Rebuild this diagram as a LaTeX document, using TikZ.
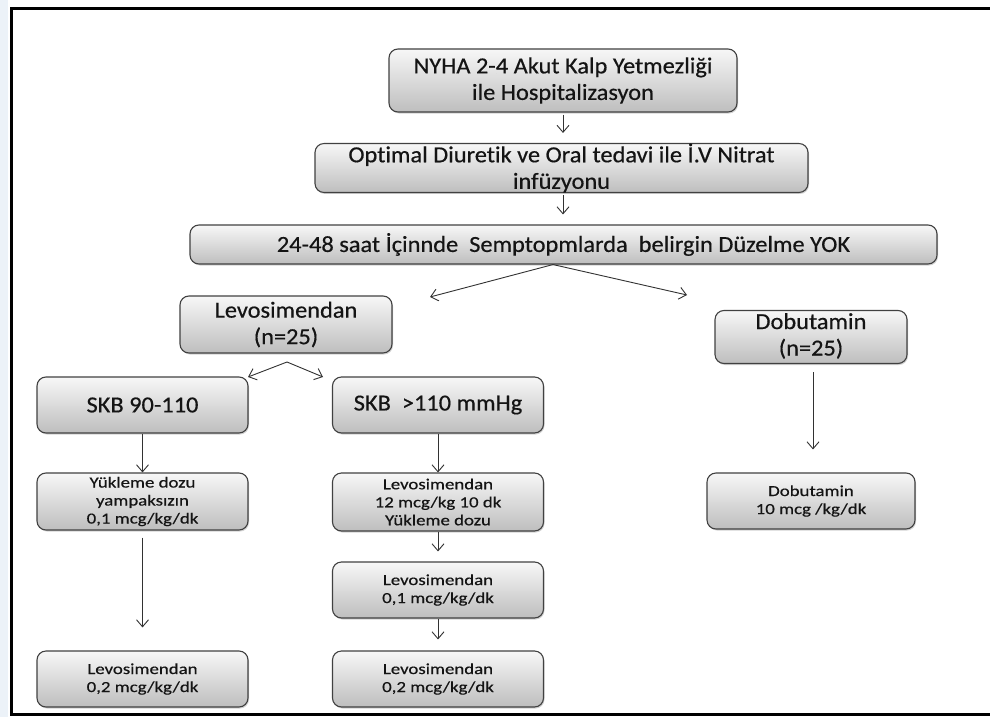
\documentclass[tikz,border=0pt]{standalone}
\usepackage{fontspec}
\setmainfont[FakeStretch=1.06, FakeBold=0.5, RawFeature={-liga;-dlig;-calt}]{Carlito}
\newfontfamily\midfam[FakeStretch=1.23, FakeBold=0.5, RawFeature={-liga;-dlig;-calt}]{Carlito}
\usetikzlibrary{arrows.meta,shadows}
\definecolor{boxedge}{RGB}{65,65,65}
\definecolor{boxtop}{RGB}{247,247,247}
\definecolor{boxbot}{RGB}{190,190,190}
\definecolor{linegray}{RGB}{50,50,50}
\definecolor{txt}{RGB}{20,20,20}
\definecolor{strip}{RGB}{236,242,248}
\begin{document}
\begin{tikzpicture}[x=1pt,y=-1pt,
  flowbox/.style={draw=boxedge, line width=1.1pt, rounded corners=9pt,
    top color=boxtop, bottom color=boxbot, align=center, inner sep=0pt, text=txt,
    drop shadow={shadow xshift=1pt, shadow yshift=-1.5pt, opacity=0.35}},
  bigfont/.style={font=\fontsize{23}{26.5}\selectfont},
  midfont/.style={font=\midfam\fontsize{15.3}{18}\selectfont},
  conn/.style={draw=linegray, line width=0.9pt, -{Straight Barb[length=7pt,width=12pt]}},
]
\fill[white] (0,0) rectangle (990,717);
\useasboundingbox (0,0) rectangle (990,717);
\fill[strip] (0,0) rectangle (8,717);
\draw[line width=3pt] (990,8.5) -- (11.5,8.5) -- (11.5,714.5) -- (990,714.5);

% nodes
\node[flowbox, bigfont, minimum width=348, minimum height=63] (nyha) at (563,80.5)
  {NYHA 2-4 Akut Kalp Yetmezliği\\ile Hospitalizasyon};
\node[flowbox, bigfont, minimum width=493, minimum height=48] (opt) at (561.5,168)
  {Optimal Diuretik ve Oral tedavi ile İ.V Nitrat\\infüzyonu};
\node[flowbox, bigfont, minimum width=747, minimum height=39] (yok) at (563.5,244.5)
  {24-48 saat İçinnde\ \ Semptopmlarda\ \ belirgin Düzelme YOK};
\node[flowbox, bigfont, minimum width=212, minimum height=57] (levo) at (286,324.5)
  {Levosimendan\\(n=25)};
\node[flowbox, bigfont, minimum width=192, minimum height=48] (dobu) at (811,337)
  {\raisebox{-4pt}{\begin{tabular}{@{}c@{}}Dobutamin\\(n=25)\end{tabular}}};
\node[flowbox, bigfont, minimum width=211, minimum height=56] (skb1) at (142.5,405)
  {SKB 90-110};
\node[flowbox, bigfont, minimum width=211, minimum height=56] (skb2) at (438,405)
  {SKB\ \ >110 mmHg};
\node[flowbox, midfont, minimum width=211, minimum height=57] (yuk) at (142.5,501.5)
  {Yükleme dozu\\yampaksızın\\0,1 mcg/kg/dk};
\node[flowbox, midfont, minimum width=211, minimum height=58] (l12) at (438,502)
  {Levosimendan\\12 mcg/kg 10 dk\\Yükleme dozu};
\node[flowbox, midfont, minimum width=211, minimum height=56] (l01) at (438,590)
  {Levosimendan\\0,1 mcg/kg/dk};
\node[flowbox, midfont, minimum width=211, minimum height=56] (l02a) at (142.5,679)
  {Levosimendan\\0,2 mcg/kg/dk};
\node[flowbox, midfont, minimum width=211, minimum height=56] (l02b) at (438,679)
  {Levosimendan\\0,2 mcg/kg/dk};
\node[flowbox, midfont, minimum width=208, minimum height=56] (dob10) at (811,501)
  {Dobutamin\\10 mcg /kg/dk};

% free ends
\coordinate (yokL) at (430,297);
\coordinate (yokR) at (687,295);
\coordinate (apex) at (287,362);
\coordinate (skbLtip) at (248,377);
\coordinate (skbRtip) at (323,377);

% connectors
\draw[conn, shorten <=2pt, shorten >=10pt] (nyha.south) -- (nyha.south |- opt.north);
\draw[conn, shorten <=2pt, shorten >=10pt] (nyha.south |- opt.south) -- (nyha.south |- yok.north);
\draw[conn] ([xshift=-10.5pt]yok.south) -- (yokL);
\draw[conn] ([xshift=-10.5pt]yok.south) -- (yokR);
\draw[conn] (apex) -- (skbLtip);
\draw[conn] (apex) -- (skbRtip);
\draw[conn] (skb1.south) -- (skb1.south |- yuk.north);
\draw[conn] (skb2.south) -- (skb2.south |- l12.north);
\draw[conn, shorten >=10pt] (l12.south) -- (l12.south |- l01.north);
\draw[conn, shorten >=11pt] (l01.south) -- (l01.south |- l02b.north);
\draw[conn, shorten <=7pt, shorten >=23pt] (yuk.south) -- (yuk.south |- l02a.north);
\draw[conn, shorten <=8pt, shorten >=23pt] ([xshift=2pt]dobu.south) -- ([xshift=2pt]dobu.south |- dob10.north);
\end{tikzpicture}
\end{document}
